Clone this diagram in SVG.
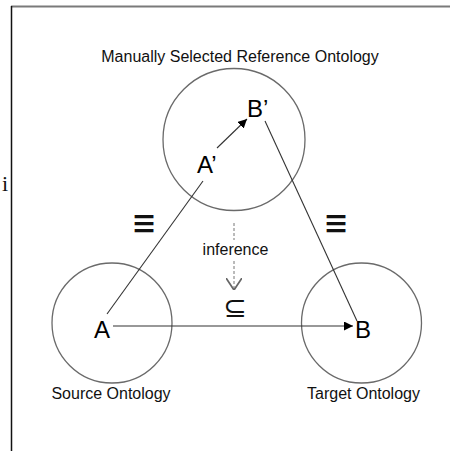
<svg xmlns="http://www.w3.org/2000/svg" width="450" height="451" viewBox="0 0 450 451">
<style>
.ont{fill:none;stroke:#6a6a6a;stroke-width:1.3}
.lbl{font-family:"Liberation Sans",Arial,sans-serif;font-size:16px;fill:#111}
.big{font-family:"Liberation Sans",Arial,sans-serif;font-size:24px;fill:#000}
.sym{font-family:"DejaVu Sans",sans-serif;fill:#111}
.edge{stroke:#333;stroke-width:1.1;fill:none}
</style>
<defs>
<marker id="ah" viewBox="0 0 10 10" refX="10" refY="5" markerWidth="9" markerHeight="9" markerUnits="userSpaceOnUse" orient="auto">
<path d="M0,0 L10,5 L0,10 z" fill="#000"/>
</marker>
<marker id="open" viewBox="0 0 10 10" refX="10" refY="5" markerWidth="12" markerHeight="16" markerUnits="userSpaceOnUse" orient="auto" preserveAspectRatio="none">
<path d="M0,0 L10,5 L0,10" fill="none" stroke="#666" stroke-width="1.2"/>
</marker>
</defs>
<rect width="450" height="451" fill="#fff"/>
<line x1="11" y1="6.5" x2="450" y2="6.5" stroke="#7a7a7a" stroke-width="2"/>
<line x1="11.5" y1="6" x2="11.5" y2="451" stroke="#111" stroke-width="1.5"/>
<text x="2" y="191" font-family="Liberation Serif,serif" font-size="22" fill="#111">i</text>

<g id="reference">
<circle class="ont" cx="234" cy="139.5" r="71"/>
<text class="lbl" x="240" y="62" text-anchor="middle">Manually Selected Reference Ontology</text>
</g>
<g id="node-Bp"><text class="big" x="247" y="117">B’</text></g>
<g id="node-Ap"><text class="big" x="197" y="173">A’</text></g>
<g id="source">
<circle class="ont" cx="112" cy="323" r="60"/>
<text class="lbl" x="111" y="399" text-anchor="middle">Source Ontology</text>
</g>
<g id="node-A"><text class="big" x="94" y="338">A</text></g>
<g id="target">
<circle class="ont" cx="361.5" cy="323" r="60"/>
<text class="lbl" x="363.5" y="399" text-anchor="middle">Target Ontology</text>
</g>
<g id="node-B"><text class="big" x="355" y="338">B</text></g>

<g id="connectors">
<line class="edge" x1="107" y1="314" x2="203" y2="181"/>
<line class="edge" x1="217" y1="148" x2="247" y2="119" marker-end="url(#ah)"/>
<line class="edge" x1="265" y1="121" x2="357" y2="321"/>
<line class="edge" x1="113" y1="326" x2="353" y2="326" marker-end="url(#ah)"/>
<line x1="234" y1="223" x2="234" y2="240" stroke="#777" stroke-width="1" stroke-dasharray="3,2"/>
<line x1="234" y1="261" x2="234" y2="290" stroke="#777" stroke-width="1" stroke-dasharray="3,2" marker-end="url(#open)"/>
</g>
<text class="lbl" x="235.5" y="255" text-anchor="middle" font-size="15">inference</text>
<text class="sym" font-size="30" text-anchor="middle" transform="translate(144,224) scale(1,1.3)" dy="0.3em">≡</text>
<text class="sym" font-size="30" text-anchor="middle" transform="translate(336,224) scale(1,1.3)" dy="0.3em">≡</text>
<text class="sym" x="235" y="317" font-size="28" text-anchor="middle">⊆</text>
</svg>
